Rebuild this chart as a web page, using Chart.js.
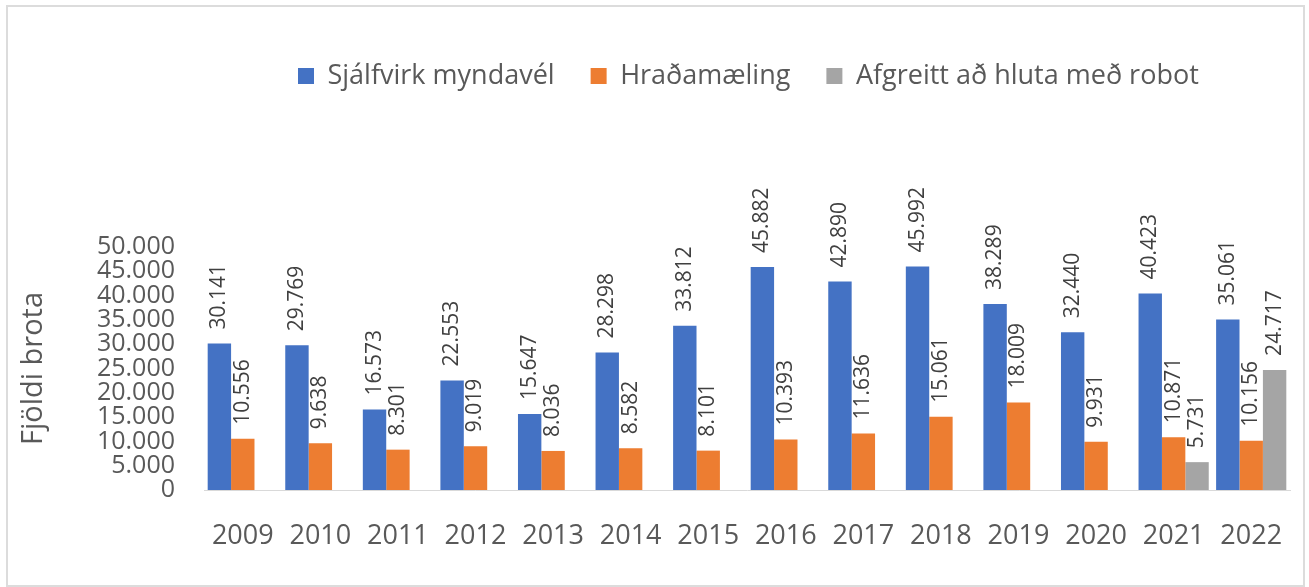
<!DOCTYPE html>
<html>
<head>
<meta charset="utf-8">
<script src="https://cdn.jsdelivr.net/npm/chart.js@4.4.1/dist/chart.umd.min.js"></script>
<style>
  html, body { margin: 0; padding: 0; background: #ffffff; }
  #wrap { position: absolute; left: 0; top: 0; width: 1309px; height: 587px; }
</style>
</head>
<body>
<div id="wrap"><canvas id="c" width="1309" height="587"></canvas></div>
<script>
// ---- Data ----
const years = ['2009','2010','2011','2012','2013','2014','2015','2016','2017','2018','2019','2020','2021','2022'];
const sjalfvirk = [30141, 29769, 16573, 22553, 15647, 28298, 33812, 45882, 42890, 45992, 38289, 32440, 40423, 35061];
const hradamaeling = [10556, 9638, 8301, 9019, 8036, 8582, 8101, 10393, 11636, 15061, 18009, 9931, 10871, 10156];
const robot = [null, null, null, null, null, null, null, null, null, null, null, null, 5731, 24717];
const seriesNames = ['Sjálfvirk myndavél', 'Hraðamæling', 'Afgreitt að hluta með robot'];
const yTicks = [0, 5000, 10000, 15000, 20000, 25000, 30000, 35000, 40000, 45000, 50000];
const yTitle = 'Fjöldi brota';

const FONT = "'Open Sans', sans-serif";
const fmt = v => String(v).replace(/\B(?=(\d{3})+(?!\d))/g, '.');

const frame = {
  id: 'frame',
  beforeDraw(chart) {
    const ctx = chart.ctx;
    ctx.save();
    ctx.fillStyle = '#ffffff';
    ctx.fillRect(0, 0, chart.width, chart.height);
    ctx.strokeStyle = '#dcdcdc';
    ctx.lineWidth = 2;
    ctx.strokeRect(7, 6, 1297, 580);
    ctx.restore();
  }
};

const legendPlace = {
  id: 'legendPlace',
  afterLayout(chart) {
    const l = chart.legend;
    if (!l) return;
    const pad = l.options.labels.padding;
    const dx = (298 - pad) - l.left;
    l.left += dx; l.right += dx;
    const newTop = 76 - pad - 13.5;
    l.top = newTop; l.bottom = newTop + l.height;
  }
};

const valueLabels = {
  id: 'valueLabels',
  afterDatasetsDraw(chart) {
    const ctx = chart.ctx;
    ctx.save();
    ctx.font = '21px ' + FONT;
    ctx.fillStyle = '#404040';
    ctx.textAlign = 'left';
    ctx.textBaseline = 'middle';
    chart.data.datasets.forEach((ds, di) => {
      const meta = chart.getDatasetMeta(di);
      meta.data.forEach((bar, i) => {
        const v = ds.data[i];
        if (v === null || v === undefined) return;
        ctx.save();
        ctx.translate(bar.x, bar.y - 14);
        ctx.rotate(-Math.PI / 2);
        ctx.fillText(fmt(v), 0, 0);
        ctx.restore();
      });
    });
    ctx.restore();
  }
};

new Chart(document.getElementById('c'), {
  type: 'bar',
  data: {
    labels: years,
    datasets: [
      { label: seriesNames[0], data: sjalfvirk, backgroundColor: '#4472C4' },
      { label: seriesNames[1], data: hradamaeling, backgroundColor: '#ED7D31' },
      { label: seriesNames[2], data: robot, backgroundColor: '#A5A5A5' }
    ]
  },
  options: {
    responsive: false,
    animation: false,
    devicePixelRatio: 1,
    layout: { padding: { left: 0, right: 19, top: 174, bottom: 5 } },
    datasets: { bar: { categoryPercentage: 0.905, barPercentage: 1.0 } },
    plugins: {
      legend: {
        position: 'top',
        align: 'start',
        labels: {
          boxWidth: 16,
          boxHeight: 16,
          padding: 36,
          color: '#595959',
          font: { family: FONT, size: 27 }
        }
      },
      tooltip: { enabled: false }
    },
    scales: {
      x: {
        afterFit(scale) { scale.paddingLeft = 0; scale.paddingRight = 0; },
        grid: { display: false, drawTicks: false },
        border: { display: true, color: '#d9d9d9', width: 1 },
        ticks: {
          color: '#595959',
          padding: 32.5,
          maxRotation: 0,
          autoSkip: false,
          font: { family: FONT, size: 27, lineHeight: 1 }
        }
      },
      y: {
        min: 0,
        max: 50000,
        afterFit(scale) { scale.width = 204; },
        afterBuildTicks(scale) { scale.ticks = yTicks.map(v => ({ value: v })); },
        grid: { display: false, drawTicks: false },
        border: { display: false },
        ticks: {
          color: '#595959',
          padding: 29,
          autoSkip: false,
          font: { family: FONT, size: 25, lineHeight: 1 },
          callback: v => fmt(v)
        },
        title: {
          display: true,
          text: yTitle,
          color: '#595959',
          padding: { top: 16, bottom: 0 },
          font: { family: FONT, size: 29, lineHeight: 1.2 }
        }
      }
    }
  },
  plugins: [frame, legendPlace, valueLabels]
});
</script>
</body>
</html>
